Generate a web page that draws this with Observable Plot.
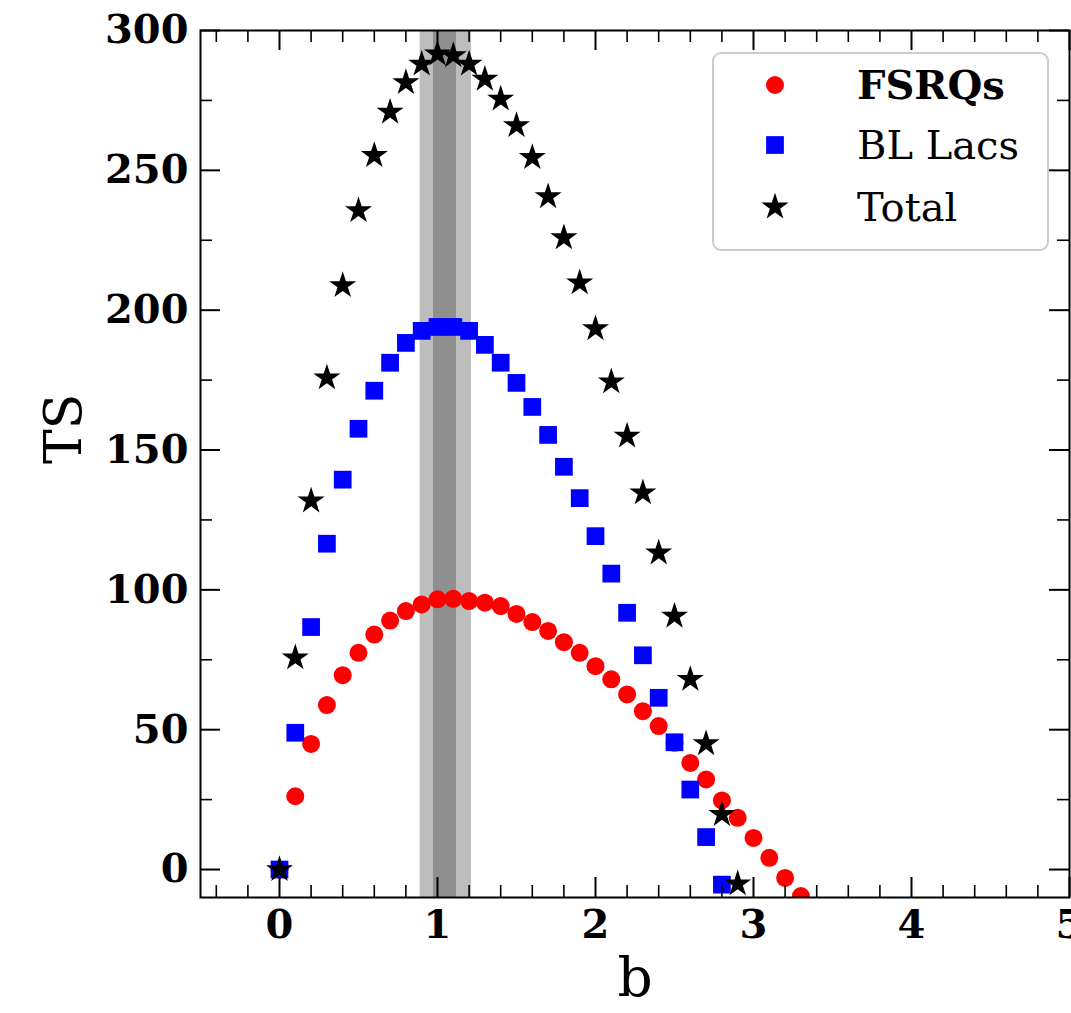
<!DOCTYPE html>
<html><head><meta charset="utf-8">
<script src="https://cdn.jsdelivr.net/npm/d3@7"></script>
<script src="https://cdn.jsdelivr.net/npm/@observablehq/plot@0.6"></script>
<style>
body{margin:0;background:#fff}
#wrap{position:relative;width:1071px;height:1013px;overflow:hidden}
</style></head><body><div id="wrap"></div>
<script>
// ---- data ----
const bValues = [0,0.1,0.2,0.3,0.4,0.5,0.6,0.7,0.8,0.9,1.0,1.1,1.2,1.3,1.4,1.5,1.6,1.7,1.8,1.9,2.0,2.1,2.2,2.3,2.4,2.5,2.6,2.7,2.8,2.9,3.0,3.1,3.2,3.3];
const fsrqTS  = [0,26.2,44.9,58.8,69.5,77.5,84,89,92.4,94.8,96.6,96.8,96,95.4,94.2,91.4,88.5,85.3,81.3,77.5,72.7,68,62.6,56.6,51.3,45.3,38.1,32.2,24.7,18.5,11.3,4.2,-3,-9.5];
const bllacTS = [0,48.9,86.7,116.5,139.4,157.6,171.2,181.2,188.3,192.6,194,194,192.6,187.6,181.2,174,165.4,155.4,144,132.8,119.2,105.8,91.8,76.6,61.4,45.5,28.6,11.6,-5.4];
const totalTS = [0,75.7,131.8,175.8,208.8,235.6,255.3,270.8,281.4,288,291.6,291,288,282.6,275.5,266,254.6,240.6,225.9,209.8,193.4,174.4,155,134.7,113.2,90.6,68,45,19.7,-5.1];
const seriesNames = ["FSRQs","BL Lacs","Total"];
const bandOuter = [0.89, 1.215];
const bandInner = [0.975, 1.12];
const xMajor = [0,1,2,3,4,5];
const xMinor = [-0.4,-0.2,0.2,0.4,0.6,0.8,1.2,1.4,1.6,1.8,2.2,2.4,2.6,2.8,3.2,3.4,3.6,3.8,4.2,4.4,4.6,4.8];
const yMajor = [0,50,100,150,200,250,300];
const yMinor = [25,75,125,175,225,275];

// ---- build ----
const rows = (vals) => vals.map((v,i) => ({b: bValues[i], TS: v}));
const W = 1071, H = 1013, mL = 200, mT = 30, mR = 2, mB = 116;
const innerW = W - mL - mR, innerH = H - mT - mB;
const colors = ["#ff0000","#0000ff","#000000"];
const symbols = ["circle","square","star"];
const radii = [9, 10, 8.5];
const font = "DejaVu Serif";

const chart = Plot.plot({
  width: W, height: H,
  marginLeft: mL, marginTop: mT, marginRight: mR, marginBottom: mB,
  x: {domain: [-0.5, 5]},
  y: {domain: [-10, 300]},
  style: {fontFamily: font, background: "white", color: "black"},
  marks: [
    Plot.rect([bandOuter], {x1: d => d[0], x2: d => d[1], fill: "#bdbdbd"}),
    Plot.rect([bandInner], {x1: d => d[0], x2: d => d[1], fill: "#8f8f8f"}),
    Plot.dot(rows(fsrqTS), {x: "b", y: "TS", r: radii[0], symbol: symbols[0], fill: colors[0], clip: "frame"}),
    Plot.dot(rows(bllacTS), {x: "b", y: "TS", r: radii[1], symbol: symbols[1], fill: colors[1], clip: "frame"}),
    Plot.dot(rows(totalTS), {x: "b", y: "TS", r: radii[2], symbol: symbols[2], fill: colors[2], clip: "frame"}),
    // inward ticks on all four sides
    Plot.ruleX(xMajor, {x: d => d, insetTop: innerH - 20, stroke: "black", strokeWidth: 2}),
    Plot.ruleX(xMajor, {x: d => d, insetBottom: innerH - 20, stroke: "black", strokeWidth: 2}),
    Plot.ruleX(xMinor, {x: d => d, insetTop: innerH - 12, stroke: "black", strokeWidth: 1.6}),
    Plot.ruleX(xMinor, {x: d => d, insetBottom: innerH - 12, stroke: "black", strokeWidth: 1.6}),
    Plot.ruleY(yMajor, {y: d => d, insetRight: innerW - 20, stroke: "black", strokeWidth: 2}),
    Plot.ruleY(yMajor, {y: d => d, insetLeft: innerW - 20, stroke: "black", strokeWidth: 2}),
    Plot.ruleY(yMinor, {y: d => d, insetRight: innerW - 12, stroke: "black", strokeWidth: 1.6}),
    Plot.ruleY(yMinor, {y: d => d, insetLeft: innerW - 12, stroke: "black", strokeWidth: 1.6}),
    Plot.axisX({ticks: xMajor, tickFormat: d => String(d), tickSize: 0, tickPadding: 12, fontSize: 40, fontWeight: "bold", label: null}),
    Plot.axisY({ticks: yMajor, tickFormat: d => String(d), anchor: "left", tickSize: 0, tickPadding: 12, fontSize: 40, fontWeight: "bold", label: null}),
    Plot.frame({stroke: "black", strokeWidth: 2}),
    Plot.text(["TS"], {text: d => d, frameAnchor: "left", dx: -136, rotate: -90, fontSize: 52, fill: "black"}),
    Plot.text(["b"], {text: d => d, frameAnchor: "bottom", dy: 98, fontSize: 55, fill: "black"})
  ]
});
const wrap = document.getElementById("wrap");
wrap.appendChild(chart);

// ---- legend ----
const lw = 335, lh = 197;
const leg = d3.create("svg").attr("id","legend").attr("width", lw + 2).attr("height", lh + 2)
  .style("position","absolute").style("left","712px").style("top","52px");
leg.append("rect").attr("x",1).attr("y",1).attr("width",lw).attr("height",lh).attr("rx",8)
  .attr("fill","white").attr("fill-opacity",0.8).attr("stroke","#cccccc").attr("stroke-width",2);
const symTypes = {circle: d3.symbolCircle, square: d3.symbolSquare, star: d3.symbolStar};
const rowY = [33, 93, 155];
seriesNames.forEach((name, i) => {
  leg.append("path")
    .attr("d", d3.symbol().type(symTypes[symbols[i]]).size(Math.PI * radii[i] * radii[i])())
    .attr("transform", `translate(63,${rowY[i]})`)
    .attr("fill", colors[i]);
  leg.append("text").attr("x", 145).attr("y", rowY[i]).attr("dy","0.36em")
    .attr("font-family", font).attr("font-size", 40)
    .attr("font-weight", i === 0 ? "bold" : "normal")
    .text(name);
});
wrap.appendChild(leg.node());
</script></body></html>
